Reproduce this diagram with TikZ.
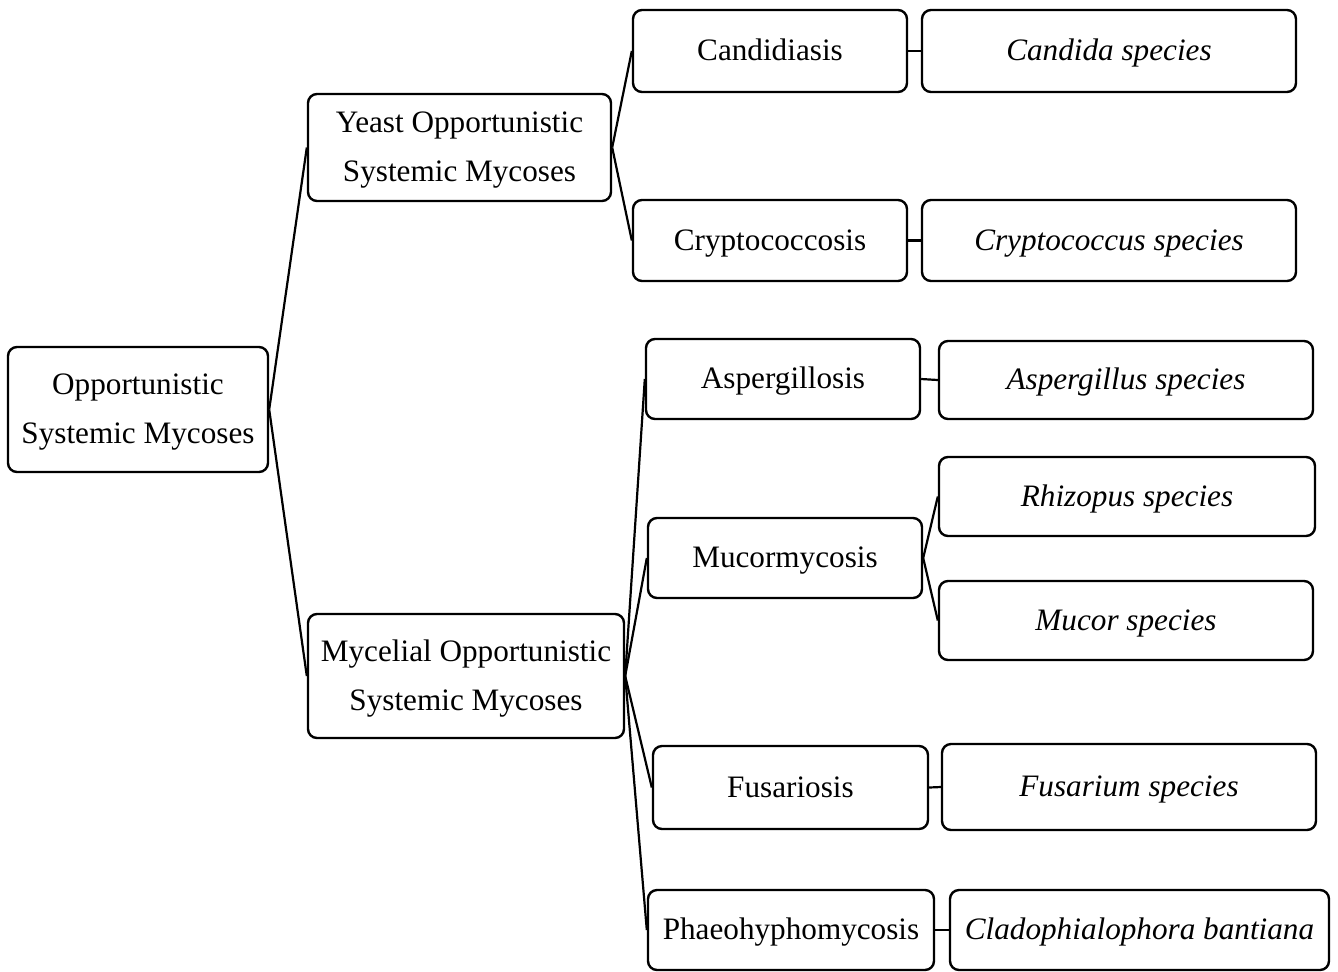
\documentclass[tikz,border=0pt]{standalone}
\usepackage{fontspec}
\setmainfont{Liberation Serif}
\newcommand{\twolines}[2]{\begin{tabular}{@{}c@{}}#1\\#2\end{tabular}}
\begin{document}
\begin{tikzpicture}[x=0.5pt,y=-0.5pt,
  box/.style={draw, line width=1.2pt, rounded corners=4.5pt, inner sep=0pt,
    font=\fontsize{15.6}{24.5}\selectfont, execute at begin node=\strut},
  link/.style={line width=1.1pt}]
\useasboundingbox (0,0) rectangle (1338,971);
\node[box, minimum width=130pt, minimum height=62.5pt] (root) at (138,409.5) {\twolines{Opportunistic}{Systemic Mycoses}};
\node[box, minimum width=151.5pt, minimum height=53.5pt] (yeast) at (459.5,147.5) {\twolines{Yeast Opportunistic}{Systemic Mycoses}};
\node[box, minimum width=158pt, minimum height=62pt] (myc) at (466,676) {\twolines{Mycelial Opportunistic}{Systemic Mycoses}};
\node[box, minimum width=137pt, minimum height=41pt] (cand) at (770,51) {Candidiasis};
\node[box, minimum width=137pt, minimum height=40.5pt] (crypto) at (770,240.5) {Cryptococcosis};
\node[box, minimum width=187pt, minimum height=41pt] (candsp) at (1109,51) {\itshape Candida species};
\node[box, minimum width=187pt, minimum height=40.5pt] (cryptosp) at (1109,240.5) {\itshape Cryptococcus species};
\node[box, minimum width=137pt, minimum height=40pt] (asper) at (783,379) {Aspergillosis};
\node[box, minimum width=187pt, minimum height=39pt] (aspersp) at (1126,380) {\itshape Aspergillus species};
\node[box, minimum width=137pt, minimum height=40pt] (mucm) at (785,558) {Mucormycosis};
\node[box, minimum width=188pt, minimum height=39.5pt] (rhiz) at (1127,496.5) {\itshape Rhizopus species};
\node[box, minimum width=187pt, minimum height=39.5pt] (mucsp) at (1126,620.5) {\itshape Mucor species};
\node[box, minimum width=137.5pt, minimum height=41.5pt] (fus) at (790.5,787.5) {Fusariosis};
\node[box, minimum width=187pt, minimum height=43pt] (fussp) at (1129,787) {\itshape Fusarium species};
\node[box, minimum width=143pt, minimum height=40pt] (phaeo) at (791,930) {Phaeohyphomycosis};
\node[box, minimum width=189.5pt, minimum height=40pt] (clado) at (1139.5,930) {\itshape Cladophialophora bantiana};
\draw[link] (root.east) -- (yeast.west);
\draw[link] (root.east) -- (myc.west);
\draw[link] (yeast.east) -- (cand.west);
\draw[link] (yeast.east) -- (crypto.west);
\draw[link] (myc.east) -- (asper.west);
\draw[link] (myc.east) -- (mucm.west);
\draw[link] (myc.east) -- (fus.west);
\draw[link] (myc.east) -- (phaeo.west);
\draw[link] (cand.east) -- (candsp.west);
\draw[link] (crypto.east) -- (cryptosp.west);
\draw[link] (asper.east) -- (aspersp.west);
\draw[link] (mucm.east) -- (rhiz.west);
\draw[link] (mucm.east) -- (mucsp.west);
\draw[link] (fus.east) -- (fussp.west);
\draw[link] (phaeo.east) -- (clado.west);
\end{tikzpicture}
\end{document}
